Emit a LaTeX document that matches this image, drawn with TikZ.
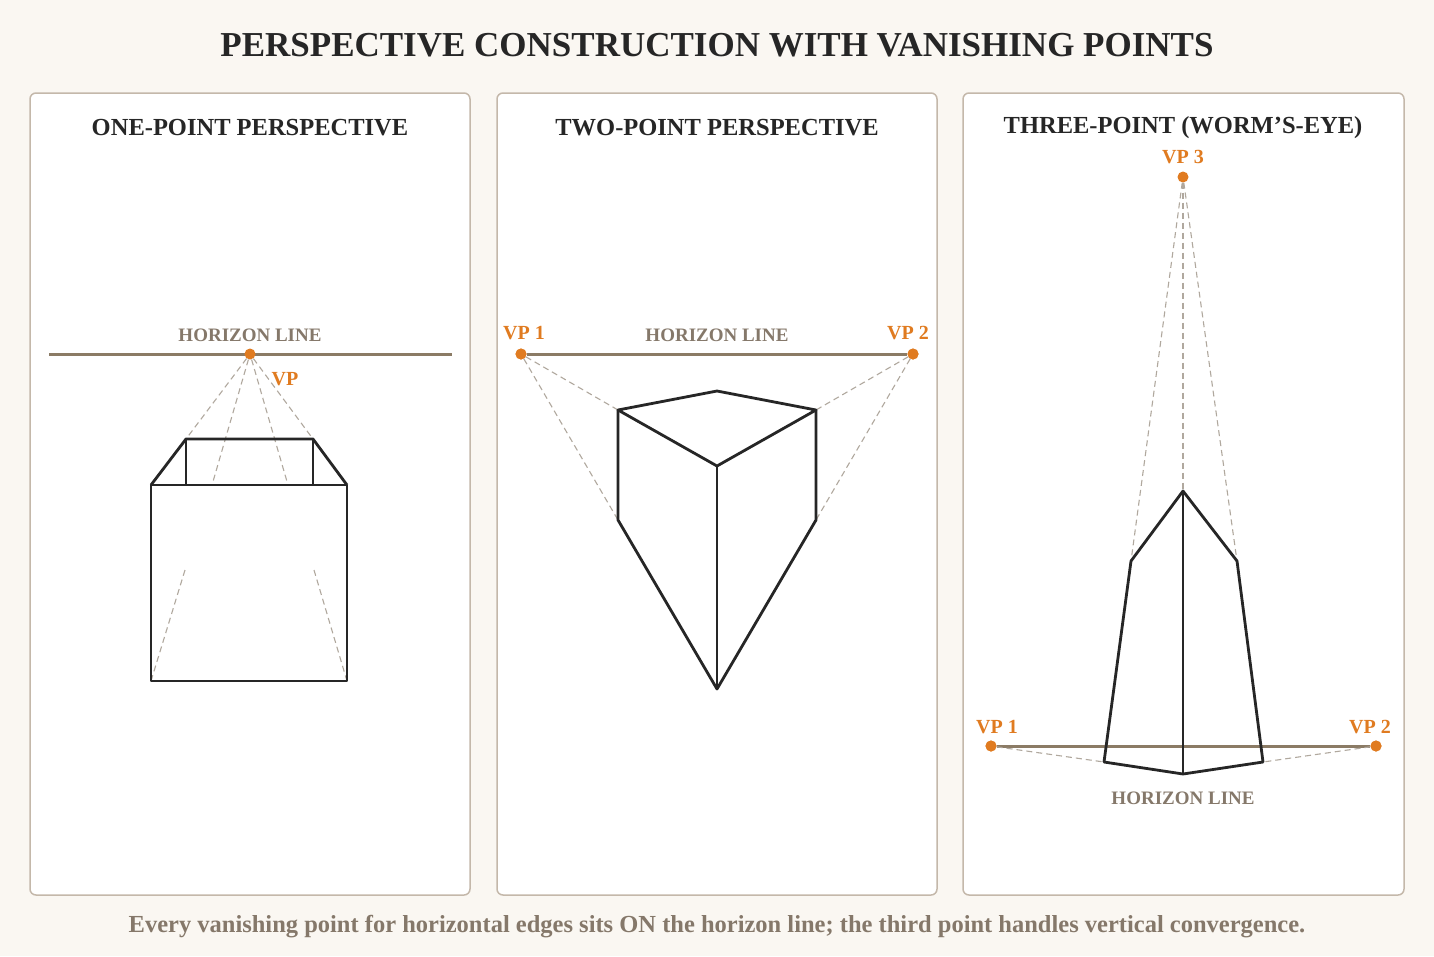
\documentclass[tikz,border=0pt]{standalone}
\usepackage{fontspec}
\setmainfont{Liberation Serif}
\begin{document}
\begin{tikzpicture}[x=1pt,y=-1pt,
  panel/.style={draw=panelc,fill=white,line width=1.5pt,rounded corners=6pt},
  hz/.style={draw=hzc,line width=3pt},
  edgeline/.style={draw=edgec,line width=2.8pt,line join=round},
  guide/.style={draw=dashc,line width=1.1pt,dash pattern=on 6pt off 4pt},
  vp/.style={circle,fill=vpc,inner sep=0pt,minimum size=11pt},
  vplab/.style={text=vpc,font=\bfseries\fontsize{20}{22}\selectfont},
  hzlab/.style={text=hzlab,font=\bfseries\fontsize{19}{22}\selectfont},
  ptitle/.style={text=edgec,font=\bfseries\fontsize{24.5}{27}\selectfont}]
\definecolor{bg}{HTML}{FAF7F2}
\definecolor{panelc}{HTML}{C4B8AA}
\definecolor{hzc}{HTML}{8B7B65}
\definecolor{hzlab}{HTML}{85786A}
\definecolor{edgec}{HTML}{262626}
\definecolor{dashc}{HTML}{B0A89E}
\definecolor{vpc}{HTML}{E07B20}
\fill[bg] (0,0) rectangle (1434,956);
\useasboundingbox (0,0) rectangle (1434,956);
\node[text=edgec,font=\bfseries\fontsize{35}{40}\selectfont] (title) at (717,45) {PERSPECTIVE CONSTRUCTION WITH VANISHING POINTS};
\draw[panel] (30,93) rectangle (470,895);
\draw[panel] (497,93) rectangle (937,895);
\draw[panel] (963,93) rectangle (1404,895);
\node[ptitle] (t1) at (250,128) {ONE-POINT PERSPECTIVE};
\node[ptitle] (t2) at (717,128) {TWO-POINT PERSPECTIVE};
\node[ptitle] (t3) at (1183,128) {THREE-POINT (WORM'S-EYE)};
% panel 1
\coordinate (h1a) at (49,354); \coordinate (h1b) at (452,354);
\draw[hz] (h1a) -- (h1b);
\node[hzlab] (hl1) at (250,335) {HORIZON LINE};
\coordinate (f1) at (151,485); \coordinate (f2) at (347,485);
\coordinate (f3) at (347,681); \coordinate (f4) at (151,681);
\coordinate (b1) at (186,439); \coordinate (b2) at (313,439);
\coordinate (b3) at (186,485); \coordinate (b4) at (313,485);
\coordinate (m1) at (212,485); \coordinate (m2) at (288,485);
\coordinate (l1) at (185,570); \coordinate (l2) at (314,570);
\node[vp] (vp) at (250,354) {};
\draw[guide] (vp) -- (b1); \draw[guide] (vp) -- (b2);
\draw[guide] (vp) -- (m1); \draw[guide] (vp) -- (m2);
\draw[guide] (l1) -- (f4); \draw[guide] (l2) -- (f3);
\draw[edgeline] (f1) rectangle (f3);
\draw[edgeline] (f1) -- (b1) -- (b2) -- (f2);
\draw[edgeline] (b1) -- (b3); \draw[edgeline] (b2) -- (b4);
\node[vplab] (vpl) at (285,379) {VP};
% panel 2
\node[vp] (v21) at (521,354) {};
\node[vp] (v22) at (913,354) {};
\draw[hz] (v21) -- (v22);
\node[vp] at (521,354) {}; \node[vp] at (913,354) {};
\node[vplab] (v21l) at (524,333) {VP 1};
\node[vplab] (v22l) at (908,333) {VP 2};
\node[hzlab] (hl2) at (717,335) {HORIZON LINE};
\coordinate (p1) at (618,410); \coordinate (p2) at (717,391);
\coordinate (p3) at (816,410); \coordinate (p4) at (717,466);
\coordinate (p5) at (618,520); \coordinate (p6) at (717,689);
\coordinate (p7) at (816,520);
\draw[guide] (v21) -- (p1); \draw[guide] (v21) -- (p5);
\draw[guide] (v22) -- (p3); \draw[guide] (v22) -- (p7);
\draw[edgeline] (p1) -- (p2) -- (p3) -- (p4) -- cycle;
\draw[edgeline] (p1) -- (p5) -- (p6) -- (p7) -- (p3);
\draw[edgeline] (p4) -- (p6);
% panel 3
\node[vp] (v3) at (1183,177) {};
\node[vplab] (v3l) at (1183,157) {VP 3};
\node[vp] (v31) at (991,746) {};
\node[vp] (v32) at (1376,746) {};
\draw[hz] (v31) -- (v32);
\node[vp] at (991,746) {}; \node[vp] at (1376,746) {};
\node[vplab] (v31l) at (997,727) {VP 1};
\node[vplab] (v32l) at (1370,727) {VP 2};
\node[hzlab] (hl3) at (1183,798) {HORIZON LINE};
\coordinate (q1) at (1183,491); \coordinate (q2) at (1131,561);
\coordinate (q3) at (1237,561); \coordinate (q4) at (1104,762);
\coordinate (q5) at (1183,774); \coordinate (q6) at (1263,762);
\draw[guide] (v3) -- (q1); \draw[guide] (v3) -- (q2); \draw[guide] (v3) -- (q3);
\draw[guide] (v31) -- (q4); \draw[guide] (v32) -- (q6);
\draw[edgeline] (q1) -- (q2) -- (q4) -- (q5) -- (q6) -- (q3) -- cycle;
\draw[edgeline] (q1) -- (q5);
\node[text=hzlab,font=\bfseries\fontsize{24.5}{27}\selectfont] (foot) at (717,927) {Every vanishing point for horizontal edges sits ON the horizon line; the third point handles vertical convergence.};
\end{tikzpicture}
\end{document}
